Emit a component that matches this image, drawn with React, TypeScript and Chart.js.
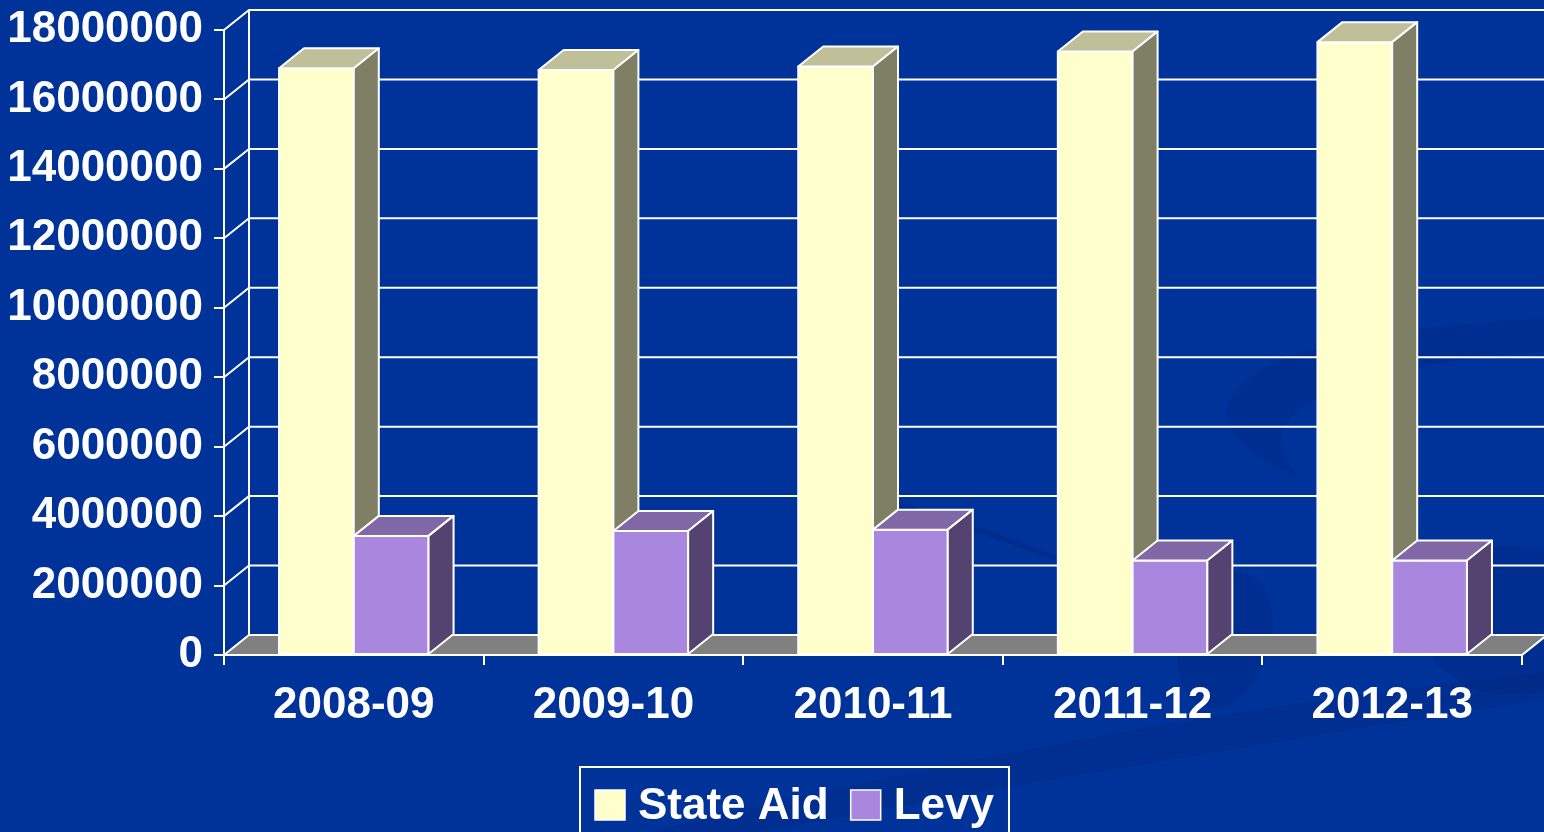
import React, { useEffect, useRef } from "react";
import { Chart, registerables } from "chart.js";

Chart.register(...registerables);

// ---- data ----
const categories = ["2008-09", "2009-10", "2010-11", "2011-12", "2012-13"];
const seriesNames = ["State Aid", "Levy"];
const stateAid = [16900000, 16850000, 16950000, 17380000, 17650000];
const levy = [3430000, 3570000, 3610000, 2720000, 2720000];
const yMin = 0;
const yMax = 18000000;
const yStep = 2000000;

// ---- style ----
const FONT = '"Liberation Sans", Arial, Helvetica, sans-serif';
const BG = "#003399";
const DX = 25;
const DY = -20;
const faces = [
  { front: "#FFFFCC", top: "#BFBF99", side: "#7F7F66" },
  { front: "#A987DE", top: "#8067A6", side: "#544370" },
];

const threeDPlugin = {
  id: "threeD",
  beforeDraw(chart: any) {
    const { ctx, width, height } = chart;
    ctx.save();
    ctx.fillStyle = BG;
    ctx.fillRect(0, 0, width, height);
    // faint decorative swirls of the slide background
    ctx.fillStyle = "rgba(0, 25, 100, 0.16)";
    ctx.beginPath();
    ctx.moveTo(1544, 318);
    ctx.quadraticCurveTo(1240, 335, 1226, 410);
    ctx.quadraticCurveTo(1228, 450, 1300, 478);
    ctx.quadraticCurveTo(1262, 440, 1300, 408);
    ctx.quadraticCurveTo(1380, 362, 1544, 352);
    ctx.closePath();
    ctx.fill();
    ctx.beginPath();
    ctx.ellipse(1510, 620, 90, 75, 0, 0, Math.PI * 2);
    ctx.fill();
    ctx.beginPath();
    ctx.ellipse(1225, 640, 45, 70, 0.3, 0, Math.PI * 2);
    ctx.fill();
    ctx.fillStyle = "rgba(0, 25, 100, 0.14)";
    ctx.beginPath();
    ctx.moveTo(650, 832);
    ctx.quadraticCurveTo(1100, 720, 1544, 672);
    ctx.lineTo(1544, 700);
    ctx.quadraticCurveTo(1150, 760, 760, 832);
    ctx.closePath();
    ctx.fill();
    ctx.strokeStyle = "rgba(0, 25, 100, 0.22)";
    ctx.lineWidth = 5;
    ctx.beginPath();
    ctx.moveTo(860, 495);
    ctx.quadraticCurveTo(960, 520, 1060, 560);
    ctx.stroke();
    ctx.restore();
  },
  beforeDatasetsDraw(chart: any) {
    const { ctx, chartArea: a, scales } = chart;
    const y = scales.y;
    const y0 = y.getPixelForValue(0);
    ctx.save();
    ctx.strokeStyle = "#FFFFFF";
    ctx.lineWidth = 2;
    // floor
    ctx.beginPath();
    ctx.moveTo(a.left, y0);
    ctx.lineTo(a.right, y0);
    ctx.lineTo(a.right + DX, y0 + DY);
    ctx.lineTo(a.left + DX, y0 + DY);
    ctx.closePath();
    ctx.fillStyle = "#808080";
    ctx.fill();
    ctx.stroke();
    // back wall + side wall gridlines
    y.ticks.forEach((t: any) => {
      if (t.value <= 0) return;
      const py = y.getPixelForValue(t.value);
      ctx.beginPath();
      ctx.moveTo(a.left, py);
      ctx.lineTo(a.left + DX, py + DY);
      ctx.lineTo(a.right + DX, py + DY);
      ctx.stroke();
    });
    ctx.beginPath();
    ctx.moveTo(a.left + DX, y.getPixelForValue(yMax) + DY);
    ctx.lineTo(a.left + DX, y0 + DY);
    ctx.stroke();
    ctx.restore();
  },
  afterDatasetsDraw(chart: any) {
    const { ctx } = chart;
    ctx.save();
    ctx.strokeStyle = "#FFFFFF";
    ctx.lineWidth = 2;
    ctx.lineJoin = "round";
    const n = chart.data.labels.length;
    for (let i = 0; i < n; i++) {
      chart.data.datasets.forEach((_: any, d: number) => {
        const el = chart.getDatasetMeta(d).data[i];
        if (!el) return;
        const { x, y, base, width } = el.getProps(["x", "y", "base", "width"], true);
        const l = x - width / 2;
        const r = x + width / 2;
        const f = faces[d];
        // front
        ctx.fillStyle = f.front;
        ctx.fillRect(l, y, r - l, base - y);
        ctx.strokeRect(l, y, r - l, base - y);
        // top
        ctx.beginPath();
        ctx.moveTo(l, y);
        ctx.lineTo(l + DX, y + DY);
        ctx.lineTo(r + DX, y + DY);
        ctx.lineTo(r, y);
        ctx.closePath();
        ctx.fillStyle = f.top;
        ctx.fill();
        ctx.stroke();
        // side
        ctx.beginPath();
        ctx.moveTo(r, y);
        ctx.lineTo(r + DX, y + DY);
        ctx.lineTo(r + DX, base + DY);
        ctx.lineTo(r, base);
        ctx.closePath();
        ctx.fillStyle = f.side;
        ctx.fill();
        ctx.stroke();
      });
    }
    ctx.restore();
  },
  afterDraw(chart: any) {
    // framed legend
    const { ctx } = chart;
    ctx.save();
    ctx.font = `bold 44px ${FONT}`;
    ctx.textBaseline = "alphabetic";
    const left = 580;
    const top = 767;
    const box = 30;
    let x = left + 15;
    const items = chart.data.datasets.map((ds: any, i: number) => ({ text: ds.label, color: faces[i].front }));
    items.forEach((it: any, i: number) => {
      ctx.fillStyle = it.color;
      ctx.fillRect(x, 790, box, box);
      ctx.strokeStyle = "#FFFFFF";
      ctx.lineWidth = 1.5;
      ctx.strokeRect(x, 790, box, box);
      x += box + 13;
      ctx.fillStyle = "#FFFFFF";
      ctx.fillText(it.text, x, 819);
      x += ctx.measureText(it.text).width;
      if (i < items.length - 1) x += 22;
    });
    const right = x + 15;
    ctx.strokeStyle = "#FFFFFF";
    ctx.lineWidth = 2;
    ctx.strokeRect(left, top, right - left, 120);
    ctx.restore();
  },
};

export default function App() {
  const ref = useRef<HTMLCanvasElement | null>(null);
  useEffect(() => {
    if (!ref.current) return;
    const chart = new Chart(ref.current, {
      type: "bar",
      data: {
        labels: categories,
        datasets: [
          { label: seriesNames[0], data: stateAid, backgroundColor: faces[0].front, borderWidth: 0 },
          { label: seriesNames[1], data: levy, backgroundColor: faces[1].front, borderWidth: 0 },
        ],
      },
      options: {
        responsive: false,
        animation: false,
        devicePixelRatio: 1,
        layout: { padding: { left: 0, top: 30, right: 22, bottom: 0 } },
        datasets: { bar: { barPercentage: 1, categoryPercentage: 0.576 } },
        plugins: { legend: { display: false }, tooltip: { enabled: false } },
        scales: {
          x: {
            offset: true,
            grid: { offset: true, drawOnChartArea: false, drawTicks: true, tickLength: 10, color: "#FFFFFF", lineWidth: 2 },
            border: { display: true, color: "#FFFFFF", width: 2 },
            ticks: { color: "#FFFFFF", font: { family: FONT, size: 44, weight: "bold" }, padding: 14, maxRotation: 0, autoSkip: false },
            afterFit: (s: any) => { s.height = 177; s.paddingLeft = 0; s.paddingRight = 0; },
          },
          y: {
            min: yMin,
            max: yMax,
            grid: { drawOnChartArea: false, drawTicks: true, tickLength: 10, color: "#FFFFFF", lineWidth: 2 },
            border: { display: true, color: "#FFFFFF", width: 2 },
            ticks: {
              stepSize: yStep,
              color: "#FFFFFF",
              font: { family: FONT, size: 44, weight: "bold" },
              padding: 11,
              callback: (v: any) => String(v),
            },
            afterFit: (s: any) => { s.width = 224; s.paddingTop = 0; s.paddingBottom = 0; },
          },
        },
      },
      plugins: [threeDPlugin],
    } as any);
    return () => chart.destroy();
  }, []);
  return (
    <div style={{ position: "fixed", left: 0, top: 0, width: 1544, height: 832, overflow: "hidden", background: BG }}>
      <canvas ref={ref} width={1544} height={832} style={{ display: "block" }} />
    </div>
  );
}
